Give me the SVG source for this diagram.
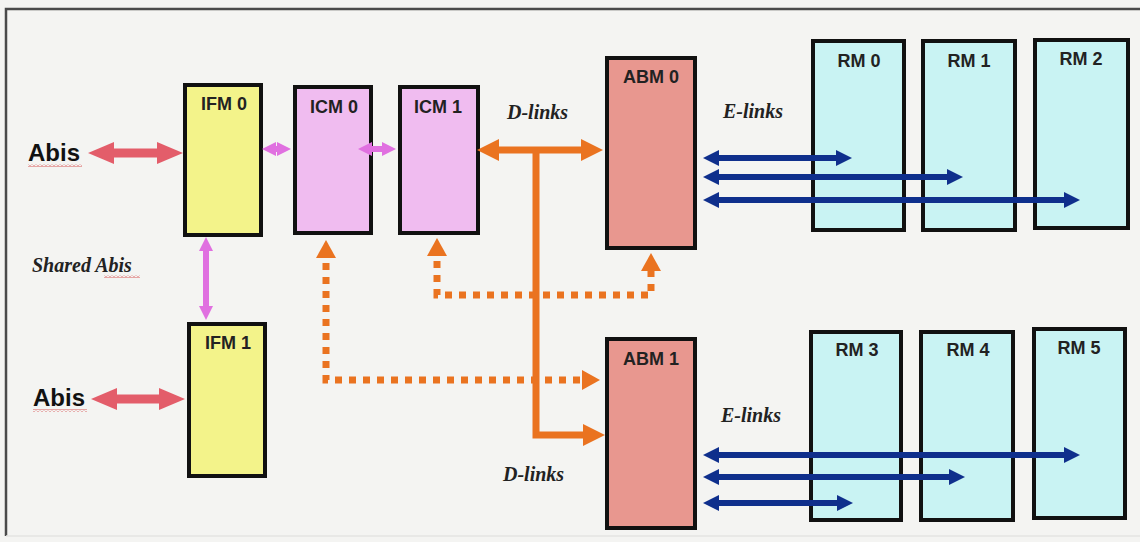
<svg xmlns="http://www.w3.org/2000/svg" width="1140" height="542" viewBox="0 0 1140 542">
<style>
.box{stroke:#111;stroke-width:4}
.ifm{fill:#f3f38a}
.icm{fill:#f0bcf0}
.abm{fill:#e8978f}
.rm{fill:#c9f3f3}
.lbl{font-family:"Liberation Sans",Arial,sans-serif;font-weight:bold;font-size:18px;fill:#222;text-anchor:middle}
.abis{font-family:"Liberation Sans",Arial,sans-serif;font-weight:bold;font-size:24px;fill:#111}
.it{font-family:"Liberation Serif","Times New Roman",serif;font-weight:bold;font-style:italic;font-size:20px;fill:#222}
.red{stroke:#e35d6a;stroke-width:9;fill:none;marker-start:url(#mRed);marker-end:url(#mRed)}
.pink{stroke:#e070e0;stroke-width:6;fill:none;marker-start:url(#mPink);marker-end:url(#mPink)}
.or{stroke:#ea7320;stroke-width:7;fill:none}
.dot{stroke:#ea7320;stroke-width:7;fill:none;stroke-dasharray:7 7;marker-start:url(#mOrD);marker-end:url(#mOrD)}
.blue{stroke:#0f2f8c;stroke-width:6;fill:none;marker-start:url(#mBlue);marker-end:url(#mBlue)}
</style>
<defs>
<marker id="mRed" markerUnits="userSpaceOnUse" markerWidth="26" markerHeight="24" refX="11" refY="12" orient="auto-start-reverse"><path d="M0,1 L26,12 L0,23 z" fill="#e35d6a"/></marker>
<marker id="mPink" markerUnits="userSpaceOnUse" markerWidth="14" markerHeight="16" refX="6" refY="8" orient="auto-start-reverse"><path d="M0,1 L14,8 L0,15 z" fill="#e070e0"/></marker>
<marker id="mOr" markerUnits="userSpaceOnUse" markerWidth="22" markerHeight="24" refX="11" refY="12" orient="auto-start-reverse"><path d="M0,1 L22,12 L0,23 z" fill="#ea7320"/></marker>
<marker id="mOrD" markerUnits="userSpaceOnUse" markerWidth="18" markerHeight="22" refX="9" refY="11" orient="auto-start-reverse"><path d="M0,1 L18,11 L0,21 z" fill="#ea7320"/></marker>
<marker id="mBlue" markerUnits="userSpaceOnUse" markerWidth="16" markerHeight="18" refX="7" refY="9" orient="auto-start-reverse"><path d="M0,1 L16,9 L0,17 z" fill="#0f2f8c"/></marker>
<pattern id="wavy" width="4" height="3" patternUnits="userSpaceOnUse"><path d="M0,2.5 L2,0.5 L4,2.5" stroke="#d03030" stroke-width="0.8" fill="none"/></pattern>
</defs>
<rect width="1140" height="542" fill="#f4f4f2"/>
<path d="M1140,9 H6 V536" fill="none" stroke="#4a4a4a" stroke-width="2.5"/>
<line x1="6" y1="536" x2="1140" y2="536" stroke="#e4e4e2" stroke-width="1.5"/>

<g id="IFM0"><rect class="box ifm" x="185" y="85" width="76" height="150"/><text class="lbl" x="224" y="110">IFM 0</text></g>
<g id="IFM1"><rect class="box ifm" x="189" y="324" width="76" height="152"/><text class="lbl" x="228" y="349">IFM 1</text></g>
<g id="ICM0"><rect class="box icm" x="295" y="87" width="76" height="146"/><text class="lbl" x="334" y="113">ICM 0</text></g>
<g id="ICM1"><rect class="box icm" x="400" y="87" width="78" height="146"/><text class="lbl" x="438" y="113">ICM 1</text></g>
<g id="ABM0"><rect class="box abm" x="607" y="58" width="88" height="190"/><text class="lbl" x="651" y="83">ABM 0</text></g>
<g id="ABM1"><rect class="box abm" x="607" y="339" width="88" height="189"/><text class="lbl" x="651" y="365">ABM 1</text></g>
<g id="RM0"><rect class="box rm" x="813" y="41" width="91" height="189"/><text class="lbl" x="859" y="67">RM 0</text></g>
<g id="RM1"><rect class="box rm" x="923" y="41" width="92" height="189"/><text class="lbl" x="969" y="67">RM 1</text></g>
<g id="RM2"><rect class="box rm" x="1035" y="40" width="93" height="188"/><text class="lbl" x="1081" y="65">RM 2</text></g>
<g id="RM3"><rect class="box rm" x="811" y="332" width="90" height="188"/><text class="lbl" x="857" y="356">RM 3</text></g>
<g id="RM4"><rect class="box rm" x="921" y="332" width="92" height="188"/><text class="lbl" x="968" y="356">RM 4</text></g>
<g id="RM5"><rect class="box rm" x="1034" y="329" width="91" height="189"/><text class="lbl" x="1079" y="354">RM 5</text></g>

<g id="labels">
<text class="abis" x="28" y="161">Abis</text>
<rect x="28" y="164" width="54" height="3" fill="url(#wavy)"/>
<text class="abis" x="33" y="406">Abis</text>
<rect x="33" y="409" width="54" height="3" fill="url(#wavy)"/>
<text class="it" x="32" y="272">Shared Abis</text>
<rect x="104" y="275" width="36" height="3" fill="url(#wavy)"/>
<text class="it" x="507" y="119">D-links</text>
<text class="it" x="503" y="481">D-links</text>
<text class="it" x="723" y="118">E-links</text>
<text class="it" x="721" y="422">E-links</text>
</g>

<g id="connectors">
<line class="red" x1="103" y1="153" x2="168" y2="153"/>
<line class="red" x1="106" y1="399" x2="170" y2="399"/>
<line class="pink" x1="270" y1="149" x2="283" y2="149"/>
<line class="pink" x1="366" y1="149" x2="388" y2="149"/>
<line class="pink" x1="206" y1="245" x2="206" y2="312"/>
<line class="or" x1="488" y1="150" x2="592" y2="150" marker-start="url(#mOr)" marker-end="url(#mOr)"/>
<path class="or" d="M536,150 V435 H594" marker-end="url(#mOr)"/>
<path class="dot" d="M326,249 V380 H591"/>
<path class="dot" d="M437,247 V295 H651 V262"/>
<line class="blue" x1="712" y1="158" x2="843" y2="158"/>
<line class="blue" x1="712" y1="177" x2="954" y2="177"/>
<line class="blue" x1="712" y1="200" x2="1071" y2="200"/>
<line class="blue" x1="712" y1="455" x2="1071" y2="455"/>
<line class="blue" x1="712" y1="477" x2="956" y2="477"/>
<line class="blue" x1="712" y1="503" x2="844" y2="503"/>
</g>
</svg>
